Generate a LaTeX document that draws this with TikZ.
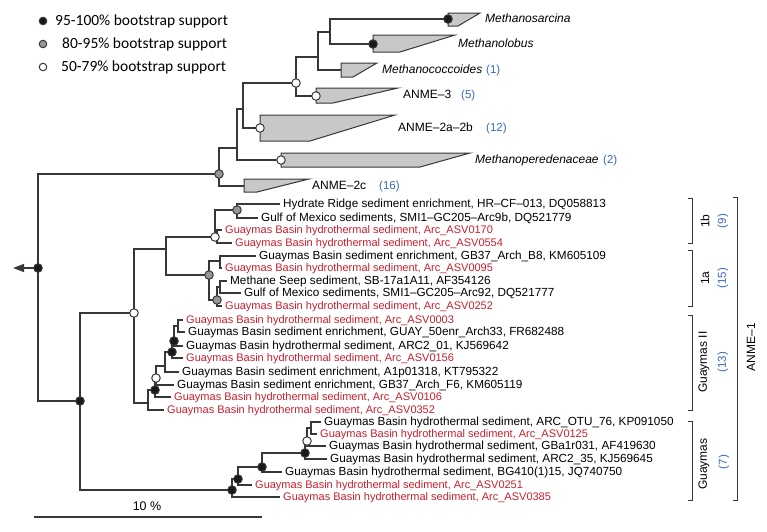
\documentclass[tikz,border=0pt]{standalone}
\usepackage{fontspec}
\setmainfont{Liberation Sans}
\newfontfamily\legendfont{Carlito}
\usetikzlibrary{arrows.meta}

\definecolor{asvred}{RGB}{200,32,46}
\definecolor{nblue}{RGB}{58,106,190}
\definecolor{treeline}{RGB}{55,55,55}
\definecolor{cladefill}{RGB}{200,200,200}
\definecolor{dotgrey}{RGB}{150,150,150}

\begin{document}
\begin{tikzpicture}[x=1pt,y=-1pt]
    \tikzstyle{branch}=[draw=treeline, line width=1.2pt]
    \tikzstyle{bsdot}=[circle, draw=treeline, line width=1pt, inner sep=0pt, minimum size=8.5pt]
    \tikzstyle{bsblack}=[bsdot, fill=black!90]
    \tikzstyle{bsgrey}=[bsdot, fill=dotgrey]
    \tikzstyle{bswhite}=[bsdot, fill=white]
    \tikzstyle{leaf}=[anchor=west, inner xsep=3pt, inner ysep=0pt, text height=8pt, text depth=2pt,
                      font=\fontsize{11.75}{13}\selectfont]
    \tikzstyle{asvleaf}=[leaf, text=asvred, font=\fontsize{11}{13}\selectfont]
    \tikzstyle{clade}=[draw=treeline, fill=cladefill, line width=1pt]
    \tikzstyle{cladename}=[anchor=west, inner sep=0pt, text height=8.5pt, text depth=2.5pt,
                           font=\fontsize{12}{14}\selectfont]
    \tikzstyle{genus}=[cladename, font=\fontsize{12}{14}\selectfont\itshape]
    \tikzstyle{nseq}=[cladename, text=nblue, font=\fontsize{11.5}{14}\selectfont]
    \tikzstyle{groupname}=[rotate=90, inner sep=0pt, font=\fontsize{12}{14}\selectfont]
    \tikzstyle{groupseq}=[groupname, text=nblue, font=\fontsize{11.5}{14}\selectfont]
    \tikzstyle{keytext}=[anchor=west, inner sep=0pt, font=\legendfont\fontsize{15.5}{18}\selectfont]
    \tikzstyle{bracket}=[draw=treeline, line width=1pt]

    \fill[white] (0,0) rectangle (767,531);

    % Legend
    \node[bsblack, minimum size=7.5pt] (keyhi) at (43,21) {};
    \node[bsgrey, minimum size=7.5pt] (keymid) at (43,44) {};
    \node[bswhite, minimum size=7.5pt] (keylo) at (43,67) {};
    \node[keytext] (keyhitext) at (55,21) {95-100\% bootstrap support};
    \node[keytext] (keymidtext) at (62,44) {80-95\% bootstrap support};
    \node[keytext] (keylotext) at (61,67) {50-79\% bootstrap support};

    % Leaves of ANME-1
    \node[leaf] (hydrate) at (280,204) {Hydrate Ridge sediment enrichment, HR–CF–013, DQ058813};
    \node[leaf] (gom9b) at (258,218) {Gulf of Mexico sediments, SMI1–GC205–Arc9b, DQ521779};
    \node[asvleaf] (asv0170) at (222,230) {Guaymas Basin hydrothermal sediment, Arc\_ASV0170};
    \node[asvleaf] (asv0554) at (232,243) {Guaymas Basin hydrothermal sediment, Arc\_ASV0554};
    \node[leaf] (gb37b8) at (256,256) {Guaymas Basin sediment enrichment, GB37\_Arch\_B8, KM605109};
    \node[asvleaf] (asv0095) at (222,268) {Guaymas Basin hydrothermal sediment, Arc\_ASV0095};
    \node[leaf] (seep) at (227,281) {Methane Seep sediment, SB-17a1A11, AF354126};
    \node[leaf] (gom92) at (241,293) {Gulf of Mexico sediments, SMI1–GC205–Arc92, DQ521777};
    \node[asvleaf] (asv0252) at (222,306) {Guaymas Basin hydrothermal sediment, Arc\_ASV0252};
    \node[asvleaf] (asv0003) at (183,320) {Guaymas Basin hydrothermal sediment, Arc\_ASV0003};
    \node[leaf] (guay50) at (185,332) {Guaymas Basin sediment enrichment, GUAY\_50enr\_Arch33, FR682488};
    \node[leaf] (arc201) at (183,346) {Guaymas Basin hydrothermal sediment, ARC2\_01, KJ569642};
    \node[asvleaf] (asv0156) at (183,358) {Guaymas Basin hydrothermal sediment, Arc\_ASV0156};
    \node[leaf] (a1p) at (179,372) {Guaymas Basin sediment enrichment, A1p01318, KT795322};
    \node[leaf] (gb37f6) at (174,385) {Guaymas Basin sediment enrichment, GB37\_Arch\_F6, KM605119};
    \node[asvleaf] (asv0106) at (171,397) {Guaymas Basin hydrothermal sediment, Arc\_ASV0106};
    \node[asvleaf] (asv0352) at (164,410) {Guaymas Basin hydrothermal sediment, Arc\_ASV0352};
    \node[leaf] (otu76) at (321,422) {Guaymas Basin hydrothermal sediment, ARC\_OTU\_76, KP091050};
    \node[asvleaf] (asv0125) at (317,434) {Guaymas Basin hydrothermal sediment, Arc\_ASV0125};
    \node[leaf] (gba1r) at (326,446) {Guaymas Basin hydrothermal sediment, GBa1r031, AF419630};
    \node[leaf] (arc235) at (327,459) {Guaymas Basin hydrothermal sediment, ARC2\_35, KJ569645};
    \node[leaf] (bg410) at (282,472) {Guaymas Basin hydrothermal sediment, BG410(1)15, JQ740750};
    \node[asvleaf] (asv0251) at (252,485) {Guaymas Basin hydrothermal sediment, Arc\_ASV0251};
    \node[asvleaf] (asv0385) at (280,497) {Guaymas Basin hydrothermal sediment, Arc\_ASV0385};

    % Tree nodes
    \coordinate (R) at (38,268);
    \coordinate (roottip) at (13,268);
    \coordinate (G) at (219,174);
    \coordinate (Y) at (237,148);
    \coordinate (X) at (243,109);
    \coordinate (W3) at (296,83);
    \coordinate (SLC) at (318,57);
    \coordinate (SL) at (330,32);
    \coordinate (sarcina) at (448,19);
    \coordinate (lobus) at (373,44);
    \coordinate (coccoides) at (341,70);
    \coordinate (anmethree) at (316,96);
    \coordinate (anmetwoab) at (260,128);
    \coordinate (mperedens) at (281,160);
    \coordinate (anmetwoc) at (244,186);
    \coordinate (A1) at (80,401);
    \coordinate (WA) at (134,313);
    \coordinate (N1ab) at (166,249);
    \coordinate (W1b) at (215,237);
    \coordinate (Gb) at (237,210);
    \coordinate (Z) at (217,237);
    \coordinate (G1a) at (209,275);
    \coordinate (N1) at (220,261);
    \coordinate (G1a2) at (217,300);
    \coordinate (W) at (220,287);
    \coordinate (G2) at (148,403);
    \coordinate (B3) at (155,390);
    \coordinate (Wg) at (156,378);
    \coordinate (N4) at (165,366);
    \coordinate (B2) at (172,352);
    \coordinate (B1) at (174,341);
    \coordinate (NA) at (178,326);
    \coordinate (Gy) at (232,490);
    \coordinate (B5) at (238,479);
    \coordinate (B6) at (262,467);
    \coordinate (B7) at (305,453);
    \coordinate (W7) at (307,441);
    \coordinate (N7) at (311,428);

    % Collapsed clades
    \draw[clade] (448,13) -- (480,13) -- (458,26) -- (448,26) -- cycle;
    \draw[clade] (373,35) -- (455,35) -- (400,52) -- (373,52) -- cycle;
    \draw[clade] (341,63) -- (377,63) -- (353,77) -- (341,77) -- cycle;
    \draw[clade] (316,88) -- (398,88) -- (333,103) -- (316,103) -- cycle;
    \draw[clade] (260,115) -- (395,115) -- (310,141) -- (260,141) -- cycle;
    \draw[clade] (281,153) -- (470,153) -- (420,167) -- (281,167) -- cycle;
    \draw[clade] (244,179) -- (309,179) -- (257,192) -- (244,192) -- cycle;

    % Branches
    \draw[branch, -{Triangle[length=11pt,width=8pt]}] (R) -- (roottip);
    \draw[branch] (R) |- (G) (R) |- (A1);
    \draw[branch] (G) |- (Y) (G) |- (anmetwoc);
    \draw[branch] (Y) |- (X) (Y) |- (mperedens);
    \draw[branch] (X) |- (W3) (X) |- (anmetwoab);
    \draw[branch] (W3) |- (SLC) (W3) |- (anmethree);
    \draw[branch] (SLC) |- (SL) (SLC) |- (coccoides);
    \draw[branch] (SL) |- (sarcina) (SL) |- (lobus);
    \draw[branch] (A1) |- (WA) (A1) |- (Gy);
    \draw[branch] (WA) |- (N1ab) (WA) |- (G2);
    \draw[branch] (N1ab) |- (W1b) (N1ab) |- (G1a);
    \draw[branch] (W1b) |- (Gb) (W1b) |- (Z);
    \draw[branch] (Gb) |- (hydrate) (Gb) |- (gom9b);
    \draw[branch] (Z) |- (asv0170) (Z) |- (asv0554);
    \draw[branch] (G1a) |- (N1) (G1a) |- (G1a2);
    \draw[branch] (N1) |- (gb37b8) (N1) |- (asv0095);
    \draw[branch] (G1a2) |- (W) (G1a2) |- (asv0252);
    \draw[branch] (W) |- (seep) (W) |- (gom92);
    \draw[branch] (G2) |- (B3) (G2) |- (asv0352);
    \draw[branch] (B3) |- (Wg) (B3) |- (asv0106);
    \draw[branch] (Wg) |- (N4) (Wg) |- (gb37f6);
    \draw[branch] (N4) |- (B2) (N4) |- (a1p);
    \draw[branch] (B2) |- (B1) (B2) |- (asv0156);
    \draw[branch] (B1) |- (NA) (B1) |- (arc201);
    \draw[branch] (NA) |- (asv0003) (NA) |- (guay50);
    \draw[branch] (Gy) |- (B5) (Gy) |- (asv0385);
    \draw[branch] (B5) |- (B6) (B5) |- (asv0251);
    \draw[branch] (B6) |- (B7) (B6) |- (bg410);
    \draw[branch] (B7) |- (W7) (B7) |- (arc235);
    \draw[branch] (W7) |- (N7) (W7) |- (gba1r);
    \draw[branch] (N7) |- (otu76) (N7) |- (asv0125);

    % Bootstrap support
    \node[bsblack] (Rdot) at (R) {};
    \node[bsblack] (A1dot) at (A1) {};
    \node[bsblack] (sarcinadot) at (sarcina) {};
    \node[bsblack] (lobusdot) at (lobus) {};
    \node[bsblack] (B3dot) at (B3) {};
    \node[bsblack] (B2dot) at (B2) {};
    \node[bsblack] (B1dot) at (B1) {};
    \node[bsblack] (Gydot) at (Gy) {};
    \node[bsblack] (B5dot) at (B5) {};
    \node[bsblack] (B6dot) at (B6) {};
    \node[bsblack] (B7dot) at (B7) {};
    \node[bsgrey] (Gdot) at (G) {};
    \node[bsgrey] (Gbdot) at (Gb) {};
    \node[bsgrey] (G1adot) at (G1a) {};
    \node[bsgrey] (G1a2dot) at (G1a2) {};
    \node[bswhite] (W3dot) at (W3) {};
    \node[bswhite] (anmethreedot) at (anmethree) {};
    \node[bswhite] (anmetwoabdot) at (anmetwoab) {};
    \node[bswhite] (mperedensdot) at (mperedens) {};
    \node[bswhite] (WAdot) at (WA) {};
    \node[bswhite] (W1bdot) at (W1b) {};
    \node[bswhite] (Wgdot) at (Wg) {};
    \node[bswhite] (W7dot) at (W7) {};

    % Clade labels
    \node[genus] (sarcinaname) at (485,19) {Methanosarcina};
    \node[genus] (lobusname) at (458,44) {Methanolobus};
    \node[genus] (coccoidesname) at (382,70) {Methanococcoides};
    \node[nseq] (coccoidesseq) at (486,70) {(1)};
    \node[cladename] (anmethreename) at (403,95) {ANME–3};
    \node[nseq] (anmethreeseq) at (461,95) {(5)};
    \node[cladename] (anmetwoabname) at (398,128) {ANME–2a–2b};
    \node[nseq] (anmetwoabseq) at (486,128) {(12)};
    \node[genus] (mperedensname) at (475,160) {Methanoperedenaceae};
    \node[nseq] (mperedensseq) at (603,160) {(2)};
    \node[cladename] (anmetwocname) at (312,186) {ANME–2c};
    \node[nseq] (anmetwocseq) at (379,186) {(16)};

    % Brackets of ANME-1
    \draw[bracket] (688,198) -- (692,198) -- (692,243) -- (688,243);
    \draw[bracket] (688,250) -- (692,250) -- (692,306) -- (688,306);
    \draw[bracket] (688,315) -- (692,315) -- (692,410) -- (688,410);
    \draw[bracket] (688,421) -- (692,421) -- (692,500) -- (688,500);
    \draw[bracket] (733,197) -- (737,197) -- (737,500) -- (733,500);
    \node[groupname] (onebname) at (705,221) {1b};
    \node[groupseq] (onebseq) at (723,221) {(9)};
    \node[groupname] (oneaname) at (705,278) {1a};
    \node[groupseq] (oneaseq) at (723,278) {(15)};
    \node[groupname] (guaytwoname) at (704,362) {Guaymas II};
    \node[groupseq] (guaytwoseq) at (723,362) {(13)};
    \node[groupname] (guayname) at (704,464) {Guaymas};
    \node[groupseq] (guayseq) at (724,462) {(7)};
    \node[groupname] (anmeonename) at (751,347) {ANME–1};

    % Scale bar
    \coordinate (scaleleft) at (34,517);
    \coordinate (scaleright) at (262,517);
    \draw[branch, line width=1.4pt] (scaleleft) -- (scaleright);
    \node[font=\fontsize{12.5}{14}\selectfont] (scalename) at (147,506) {10 \%};
\end{tikzpicture}
\end{document}
